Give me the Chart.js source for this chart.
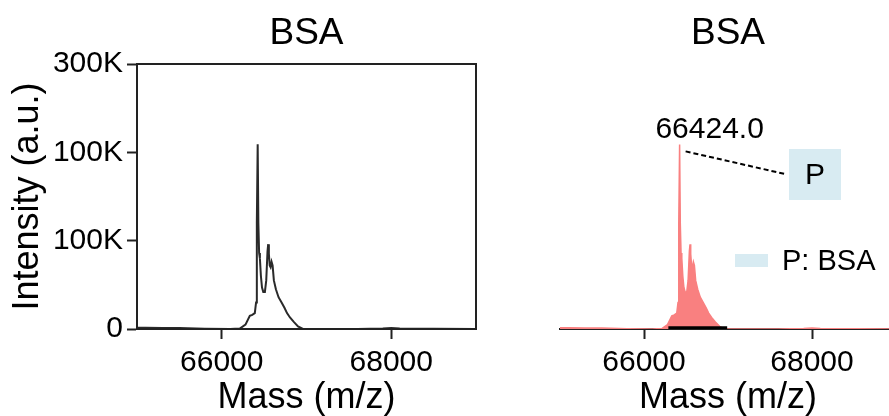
<!DOCTYPE html>
<html>
<head>
<meta charset="utf-8">
<script src="https://cdn.jsdelivr.net/npm/chart.js@4.4.0/dist/chart.umd.min.js"></script>
<style>
  html, body { margin: 0; padding: 0; background: #fff; overflow: hidden; }
  #leftChart { position: absolute; left: 0; top: 0; }
  #rightChart { position: absolute; left: 540px; top: 0; }
</style>
</head>
<body>
<canvas id="leftChart" width="480" height="416"></canvas>
<canvas id="rightChart" width="360" height="416"></canvas>
<script>
// spectrum (m/z vs intensity)
const masses = [65000, 65100, 65300, 65500, 65800, 66100, 66213, 66280, 66331, 66360, 66390, 66405,
  66414, 66424, 66432, 66441, 66450, 66462, 66475, 66490, 66509, 66525, 66540, 66548, 66556, 66566,
  66576, 66588, 66600, 66615, 66639, 66670, 66706, 66740, 66770, 66805, 66850, 66900, 66958, 67200,
  67600, 67900, 68000, 68100, 68500, 69000];
const intensity = [1500, 1500, 1000, 1200, 300, 0, 500, 5000, 15000, 16000, 18000, 30000,
  120000, 209000, 120000, 86000, 80000, 60000, 47000, 42000, 42000, 55000, 88000, 96000, 85000, 72000,
  70000, 76000, 72000, 55000, 45000, 36000, 30000, 24000, 18000, 13000, 8000, 3000, 0, 0,
  0, 500, 1000, 500, 300, 0];

// black trace at the base of the filled spectrum
const baseMasses = [66290, 66990];
const baseLevel = [1500, 1500];

const xTickValues = [66000, 68000];
const yTickValues = [0, 100000, 200000, 300000];
const yTickLabels = ['0', '100K', '100K', '300K'];

const titleText = 'BSA';
const peakLabel = '66424.0';
const boxLabel = 'P';
const legendLabel = 'P: BSA';

const FONT = '"Liberation Sans", Arial, sans-serif';
Chart.defaults.font.family = FONT;
Chart.defaults.color = '#000';

const toPoints = (xs, ys) => xs.map((x, i) => ({ x: x, y: ys[i] }));

const panelTitle = {
  id: 'panelTitle',
  afterDraw(chart) {
    const ctx = chart.ctx, ca = chart.chartArea;
    ctx.save();
    ctx.font = '37px ' + FONT;
    ctx.fillStyle = '#000';
    ctx.textAlign = 'center';
    ctx.textBaseline = 'alphabetic';
    ctx.fillText(titleText, (ca.left + ca.right) / 2, 44);
    ctx.restore();
  }
};

const frame = {
  id: 'frame',
  afterDraw(chart) {
    const ctx = chart.ctx, ca = chart.chartArea;
    ctx.save();
    ctx.strokeStyle = '#222';
    ctx.lineWidth = 2;
    ctx.strokeRect(ca.left, ca.top, ca.right - ca.left, ca.bottom - ca.top);
    ctx.restore();
  }
};

// peak label, dashed leader, "P" box and legend entry
const peakNote = {
  id: 'peakNote',
  afterDraw(chart) {
    const ctx = chart.ctx;
    const sx = chart.scales.x, sy = chart.scales.y;
    let pi = 0;
    intensity.forEach((v, i) => { if (v > intensity[pi]) pi = i; });
    const px = sx.getPixelForValue(masses[pi]);
    const py = sy.getPixelForValue(intensity[pi]);
    ctx.save();
    ctx.fillStyle = '#000';
    ctx.font = '30px ' + FONT;
    ctx.textAlign = 'center';
    ctx.textBaseline = 'alphabetic';
    ctx.fillText(peakLabel, px + 30, py - 6);

    // box
    const bx = 249, by = 149, bw = 52, bh = 51;
    ctx.fillStyle = '#d8ebf2';
    ctx.fillRect(bx, by, bw, bh);
    ctx.fillStyle = '#000';
    ctx.textBaseline = 'middle';
    ctx.fillText(boxLabel, bx + bw / 2, by + bh / 2 + 1);

    ctx.setLineDash([5, 3]);
    ctx.strokeStyle = '#000';
    ctx.lineWidth = 2;
    ctx.beginPath();
    ctx.moveTo(px + 6, py + 7);
    ctx.lineTo(bx - 4, 174);
    ctx.stroke();
    ctx.setLineDash([]);

    // legend
    ctx.fillStyle = '#d8ebf2';
    ctx.fillRect(195, 254, 33, 13);
    ctx.fillStyle = '#000';
    ctx.font = '29px ' + FONT;
    ctx.textAlign = 'left';
    ctx.fillText(legendLabel, 242, 262);
    ctx.restore();
  }
};

const xAxis = {
  type: 'linear',
  min: 65000,
  max: 69000,
  afterBuildTicks: s => { s.ticks = xTickValues.map(v => ({ value: v })); },
  afterFit: s => { s.height = 87; },
  ticks: { font: { size: 30 }, color: '#000', padding: 6, maxRotation: 0,
    callback: v => String(v) },
  grid: { drawOnChartArea: false, tickLength: 10, tickWidth: 2, tickColor: '#222' },
  border: { color: '#222', width: 2 },
  title: { display: true, text: 'Mass (m/z)', font: { size: 36 }, color: '#000',
    padding: { top: 0, bottom: -4 } }
};

new Chart(document.getElementById('leftChart'), {
  type: 'line',
  data: {
    datasets: [{
      data: toPoints(masses, intensity),
      borderColor: '#2a2a2a',
      borderWidth: 2,
      pointRadius: 0,
      tension: 0,
      fill: false
    }]
  },
  options: {
    responsive: false,
    animation: false,
    layout: { padding: { left: 0, right: 4, top: 64, bottom: 0 } },
    plugins: { legend: { display: false }, tooltip: { enabled: false } },
    scales: {
      x: xAxis,
      y: {
        min: 0,
        max: 300000,
        afterBuildTicks: s => { s.ticks = yTickValues.map(v => ({ value: v })); },
        afterFit: s => { s.width = 137; },
        ticks: { font: { size: 30 }, color: '#000', padding: 4,
          callback: (v, i) => yTickLabels[i] },
        grid: { drawOnChartArea: false, tickLength: 10, tickWidth: 2, tickColor: '#222' },
        border: { color: '#222', width: 2 },
        title: { display: true, text: 'Intensity (a.u.)', font: { size: 36 }, color: '#000', padding: 6 }
      }
    }
  },
  plugins: [panelTitle, frame]
});

new Chart(document.getElementById('rightChart'), {
  type: 'line',
  data: {
    datasets: [{
      data: toPoints(masses, intensity),
      borderColor: '#f98080',
      backgroundColor: '#f98080',
      borderWidth: 1.5,
      pointRadius: 0,
      tension: 0,
      fill: 'origin',
      order: 2
    }, {
      data: toPoints(baseMasses, baseLevel),
      borderColor: '#000',
      borderWidth: 3,
      pointRadius: 0,
      fill: false,
      order: 1
    }]
  },
  options: {
    responsive: false,
    animation: false,
    layout: { padding: { left: 20, right: 4, top: 64, bottom: 0 } },
    plugins: { legend: { display: false }, tooltip: { enabled: false } },
    scales: {
      x: xAxis,
      y: { display: false, min: 0, max: 300000 }
    }
  },
  plugins: [panelTitle, peakNote]
});
</script>
</body>
</html>
